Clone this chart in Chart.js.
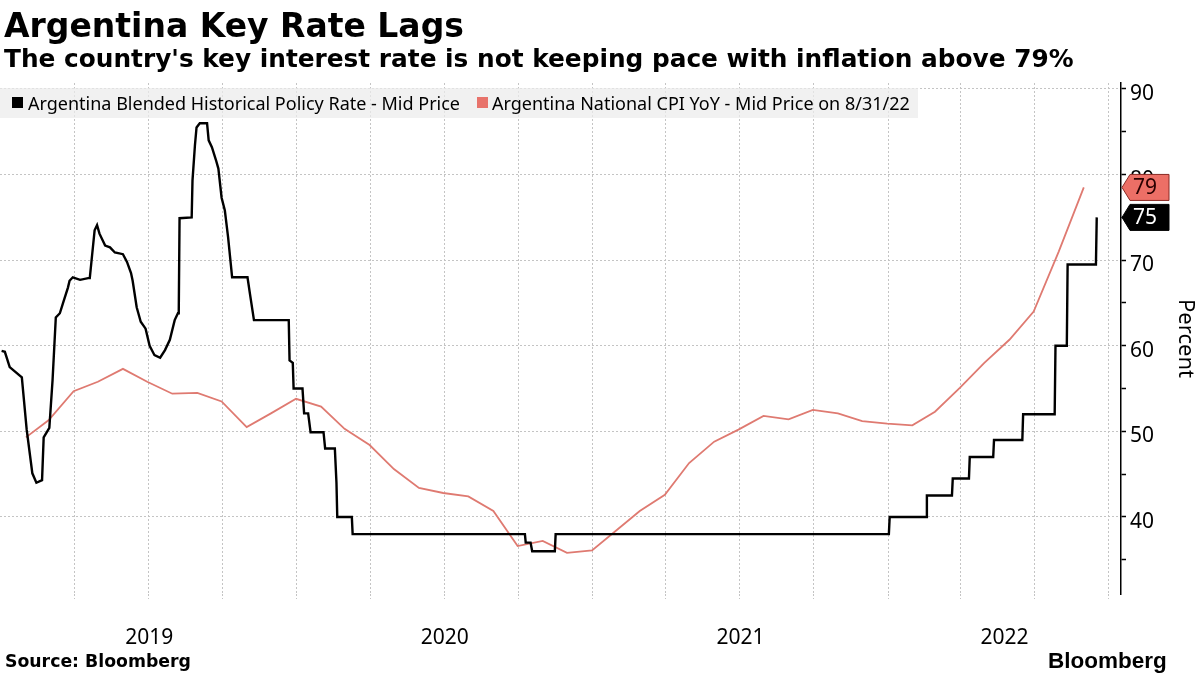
<!DOCTYPE html>
<html>
<head>
<meta charset="utf-8">
<script src="https://cdn.jsdelivr.net/npm/chart.js@4.4.0/dist/chart.umd.min.js"></script>
<style>
  html, body { margin: 0; padding: 0; background: #fff; }
  #wrap { position: relative; width: 1200px; height: 675px; overflow: hidden; background: #fff; }
  #myChart { position: absolute; left: 0; top: 0; }
  .txt { position: absolute; white-space: nowrap; color: #000; }
  #titulo { left: 4px; top: 9px; font: bold 33px/33px "DejaVu Sans"; }
  #subtitulo { left: 4px; top: 47px; font: bold 24.8px/24.8px "DejaVu Sans"; }
  #leyenda { position: absolute; left: 0; top: 88px; width: 918px; height: 30px; background: rgba(236, 236, 236, 0.72); }
  .cuadro { position: absolute; top: 97px; width: 11px; height: 11px; }
  .item { position: absolute; top: 88px; font: 18px/30px "Noto Sans"; white-space: nowrap; }
  #fuente { left: 5px; top: 653px; font: bold 17.3px/17.3px "DejaVu Sans"; }
  #marca { left: 1048px; top: 650px; font: bold 22.5px/22.5px "Liberation Sans"; }
</style>
</head>
<body>
<div id="wrap">
  <canvas id="myChart" width="1200" height="675"></canvas>
  <div id="titulo" class="txt">Argentina Key Rate Lags</div>
  <div id="subtitulo" class="txt">The country's key interest rate is not keeping pace with inflation above 79%</div>
  <div id="leyenda"></div>
  <div class="cuadro" style="left:12px;background:#000;"></div>
  <div class="item" style="left:28px;">Argentina Blended Historical Policy Rate - Mid Price</div>
  <div class="cuadro" style="left:477px;background:#e8736b;"></div>
  <div class="item" style="left:492px;">Argentina National CPI YoY - Mid Price on 8/31/22</div>
  <div id="fuente" class="txt">Source: Bloomberg</div>
  <div id="marca" class="txt">Bloomberg</div>
</div>
<script>
// Tasa de política monetaria (diaria)
const fechasTasa = [
  "2019-01-01", "2019-01-05", "2019-01-11", "2019-01-26", "2019-02-01", "2019-02-08", "2019-02-13",
  "2019-02-20", "2019-02-22", "2019-03-01", "2019-03-05", "2019-03-09", "2019-03-14", "2019-03-18",
  "2019-03-24", "2019-03-26", "2019-03-30", "2019-04-08", "2019-04-18", "2019-04-20", "2019-04-26",
  "2019-04-29", "2019-05-02", "2019-05-09", "2019-05-15", "2019-05-21", "2019-05-31", "2019-06-05",
  "2019-06-10", "2019-06-12", "2019-06-17", "2019-06-22", "2019-06-28", "2019-07-03", "2019-07-09",
  "2019-07-16", "2019-07-22", "2019-07-28", "2019-08-03", "2019-08-07", "2019-08-08", "2019-08-09",
  "2019-08-24", "2019-08-25", "2019-08-28", "2019-08-30", "2019-09-03", "2019-09-12", "2019-09-14",
  "2019-09-18", "2019-09-23", "2019-09-26", "2019-09-30", "2019-10-04", "2019-10-08", "2019-10-13",
  "2019-11-01", "2019-11-04", "2019-11-09", "2019-12-22", "2019-12-23", "2019-12-27", "2019-12-28",
  "2020-01-08", "2020-01-10", "2020-01-15", "2020-01-18", "2020-02-03", "2020-02-05", "2020-02-17",
  "2020-02-19", "2020-02-20", "2020-03-09", "2020-03-10", "2020-10-09", "2020-10-10", "2020-10-16",
  "2020-10-18", "2020-11-15", "2020-11-16", "2022-01-02", "2022-01-03", "2022-02-17", "2022-02-18",
  "2022-03-21", "2022-03-22", "2022-04-11", "2022-04-12", "2022-05-11", "2022-05-12", "2022-06-16",
  "2022-06-17", "2022-07-26", "2022-07-27", "2022-08-10", "2022-08-11", "2022-09-15", "2022-09-16"
];
const valoresTasa = [
  59.4, 59.3, 57.5, 56.3, 50.2, 45.1, 44.0,
  44.3, 49.3, 50.4, 56.0, 63.3, 63.8, 65.0,
  66.8, 67.6, 68.0, 67.7, 67.9, 67.9, 73.5,
  74.1, 73.1, 71.7, 71.5, 70.9, 70.7, 69.8,
  68.5, 67.6, 64.5, 62.8, 62.0, 60.0, 58.9,
  58.6, 59.5, 60.7, 63.0, 63.8, 63.8, 74.9,
  75.0, 79.3, 83.4, 85.5, 86.0, 86.0, 84.0,
  83.2, 81.7, 80.7, 77.3, 75.8, 72.7, 68.0,
  68.0, 66.1, 63.0, 63.0, 58.3, 58.0, 55.0,
  55.0, 52.1, 52.1, 49.9, 49.9, 48.0, 48.0,
  44.0, 40.0, 40.0, 38.0, 38.0, 37.0, 37.0,
  36.0, 36.0, 38.0, 38.0, 40.0, 40.0, 42.5,
  42.5, 44.5, 44.5, 47.0, 47.0, 49.0, 49.0,
  52.0, 52.0, 60.0, 60.0, 69.5, 69.5, 75.0
];

// Inflación interanual (fin de mes)
const fechasIpc = [
  "2019-01-31", "2019-02-28", "2019-03-31", "2019-04-30", "2019-05-31", "2019-06-30",
  "2019-07-31", "2019-08-31", "2019-09-30", "2019-10-31", "2019-11-30", "2019-12-31",
  "2020-01-31", "2020-02-29", "2020-03-31", "2020-04-30", "2020-05-31", "2020-06-30",
  "2020-07-31", "2020-08-31", "2020-09-30", "2020-10-31", "2020-11-30", "2020-12-31",
  "2021-01-31", "2021-02-28", "2021-03-31", "2021-04-30", "2021-05-31", "2021-06-30",
  "2021-07-31", "2021-08-31", "2021-09-30", "2021-10-31", "2021-11-30", "2021-12-31",
  "2022-01-31", "2022-02-28", "2022-03-31", "2022-04-30", "2022-05-31", "2022-06-30",
  "2022-07-31", "2022-08-31"
];
const valoresIpc = [
  49.3, 51.3, 54.7, 55.8, 57.3, 55.8, 54.4, 54.5, 53.5, 50.5, 52.1, 53.8,
  52.9, 50.3, 48.4, 45.6, 43.4, 42.8, 42.4, 40.7, 36.6, 37.2, 35.8, 36.1,
  38.5, 40.7, 42.6, 46.3, 48.8, 50.2, 51.8, 51.4, 52.5, 52.1, 51.2, 50.9,
  50.7, 52.3, 55.1, 58.0, 60.7, 64.0, 71.0, 78.5
];

// Ejes
const fechaMin = "2018-12-30";
const fechaMax = "2022-10-16";
const lineasTrimestre = [
  "2019-04-01", "2019-07-01", "2019-10-01", "2020-01-01", "2020-04-01", "2020-07-01", "2020-10-01",
  "2021-01-01", "2021-04-01", "2021-07-01", "2021-10-01", "2022-01-01", "2022-04-01", "2022-07-01",
  "2022-10-01"
];
const etiquetasAnio = ["2019", "2020", "2021", "2022"];
const ticksY = [35, 40, 45, 50, 55, 60, 65, 70, 75, 80, 85, 90];

const aTiempo = (f) => new Date(f).getTime();
const tMin = aTiempo(fechaMin);
const tMax = aTiempo(fechaMax);

// cada año se rotula en el centro de su tramo visible
const centrosAnio = etiquetasAnio.map((a) => {
  const ini = Math.max(tMin, Date.UTC(+a, 0, 1));
  const fin = Math.min(tMax, Date.UTC(+a + 1, 0, 1));
  return (ini + fin) / 2;
});

const GRIS = "#c4c4c4";

// Etiquetas con el último valor a la derecha del eje
const etiquetasFinales = {
  id: "etiquetasFinales",
  afterDraw(chart) {
    const ctx = chart.ctx;
    const escalaY = chart.scales.y;
    const x0 = chart.chartArea.right + 1;
    chart.data.datasets.forEach((ds) => {
      const ultimo = ds.data[ds.data.length - 1].y;
      const cy = escalaY.getPixelForValue(ultimo);
      const h = 13;
      ctx.save();
      ctx.beginPath();
      ctx.moveTo(x0, cy);
      ctx.lineTo(x0 + 8, cy - h);
      ctx.lineTo(x0 + 47, cy - h);
      ctx.lineTo(x0 + 47, cy + h);
      ctx.lineTo(x0 + 8, cy + h);
      ctx.closePath();
      ctx.fillStyle = ds.colorEtiqueta;
      ctx.fill();
      ctx.lineWidth = 1;
      ctx.strokeStyle = ds.bordeEtiqueta;
      ctx.stroke();
      ctx.fillStyle = ds.textoEtiqueta;
      ctx.font = '21px "Noto Sans"';
      ctx.textBaseline = "middle";
      ctx.textAlign = "left";
      ctx.fillText(String(Math.round(ultimo)), x0 + 11, cy + 1);
      ctx.restore();
    });
  },
};

const ctx = document.getElementById("myChart").getContext("2d");
const myChart = new Chart(ctx, {
  type: "line",
  data: {
    datasets: [
      {
        label: "Argentina Blended Historical Policy Rate - Mid Price",
        data: fechasTasa.map((f, i) => ({ x: aTiempo(f), y: valoresTasa[i] })),
        borderColor: "#000",
        borderWidth: 2.4,
        pointRadius: 0,
        tension: 0,
        colorEtiqueta: "#000",
        bordeEtiqueta: "#000",
        textoEtiqueta: "#fff",
      },
      {
        label: "Argentina National CPI YoY - Mid Price on 8/31/22",
        data: fechasIpc.map((f, i) => ({ x: aTiempo(f), y: valoresIpc[i] })),
        borderColor: "#df7a71",
        borderWidth: 1.8,
        pointRadius: 0,
        tension: 0,
        colorEtiqueta: "#ec6f66",
        bordeEtiqueta: "#8a2a24",
        textoEtiqueta: "#2a0000",
      },
    ],
  },
  options: {
    responsive: false,
    animation: false,
    devicePixelRatio: 1,
    layout: { padding: { top: 83, right: 0, bottom: 28, left: 0 } },
    plugins: { legend: { display: false }, tooltip: { enabled: false } },
    scales: {
      x: {
        type: "linear",
        position: "bottom",
        weight: 0,
        min: tMin,
        max: tMax,
        afterBuildTicks: (axis) => {
          axis.ticks = lineasTrimestre.map((f) => ({ value: aTiempo(f) }));
        },
        afterFit: (axis) => {
          axis.height = 5;
        },
        ticks: { display: false },
        grid: { color: GRIS, lineWidth: 1, tickLength: 5, tickColor: GRIS, tickBorderDash: [2, 2] },
        border: { display: false, dash: [2, 2] },
      },
      x2: {
        type: "linear",
        position: "bottom",
        weight: 1,
        min: tMin,
        max: tMax,
        afterBuildTicks: (axis) => {
          axis.ticks = centrosAnio.map((v) => ({ value: v }));
        },
        afterFit: (axis) => {
          axis.height = 48;
        },
        ticks: {
          autoSkip: false,
          maxRotation: 0,
          padding: 18,
          color: "#000",
          font: { family: "Noto Sans", size: 21 },
          callback: (v, i) => etiquetasAnio[i],
        },
        grid: { display: false },
        border: { display: false },
      },
      y: {
        position: "right",
        min: 31,
        max: 90.7,
        afterBuildTicks: (axis) => {
          axis.ticks = ticksY.map((v) => ({ value: v }));
        },
        afterFit: (axis) => {
          axis.width = 79;
        },
        ticks: {
          padding: 4,
          labelOffset: 5,
          color: "#000",
          font: { family: "Noto Sans", size: 21 },
          callback: (v) => (v % 10 === 0 ? String(v) : ""),
        },
        grid: {
          color: (c) => (c.tick && c.tick.value % 10 === 0 ? GRIS : "rgba(0,0,0,0)"),
          lineWidth: 1,
          tickColor: "#000",
          tickLength: 5,
          tickWidth: 1.5,
        },
        border: { display: true, color: "#000", width: 1.5, dash: [2, 2] },
        title: {
          display: true,
          text: "Percent",
          color: "#000",
          font: { family: "Noto Sans", size: 22 },
          padding: { top: 2, bottom: 0 },
        },
      },
    },
  },
  plugins: [etiquetasFinales],
});
</script>
</body>
</html>
